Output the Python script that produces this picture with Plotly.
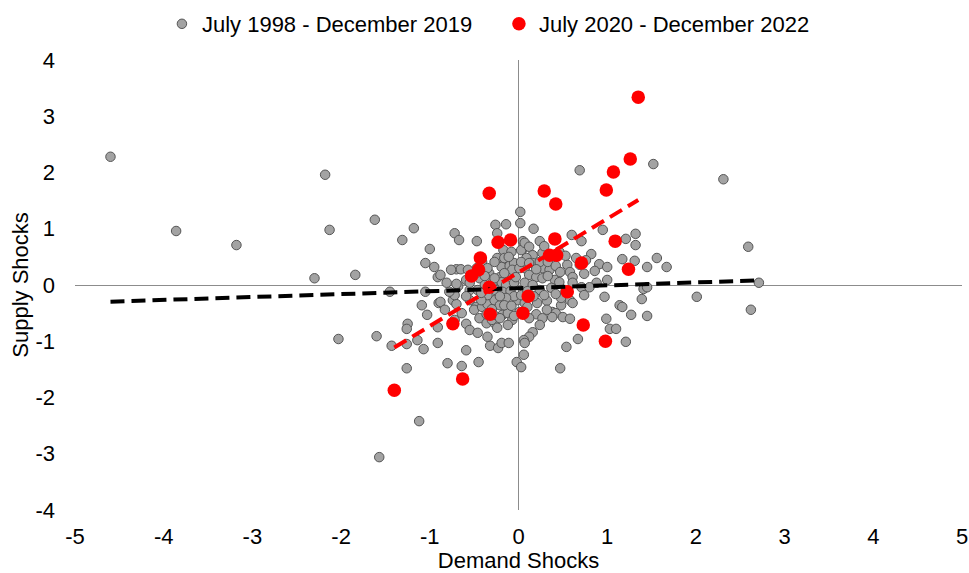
import numpy as np
import plotly.graph_objects as go

# July 1998 - December 2019 (demand shock, supply shock)
pre_demand = [
    -4.60, -3.86, -3.18, -2.30, -2.18, -2.13, -1.84, -2.03, -1.62, -1.60,
    -1.57, -1.43, -1.31, -1.18, -1.26, -1.12, -1.45, -1.00, -1.05, -0.95,
    -0.91, -1.05, -1.09, -1.03, -0.90, -1.25, -1.26, -1.26, -1.14, -1.07,
    -0.91, -0.91, -0.80, -0.64, -0.59, -0.59, -0.72, -0.67, -0.47, -0.88,
    -0.70, -0.65, -0.44, -0.59, -0.68, -0.26, -0.14, -0.24, 0.02, 0.02,
    -0.17, -0.24, -0.33, -0.19, -0.10, -0.05, 0.05, 0.05, -0.21, -0.10,
    -0.88, -0.74, -0.70, -0.55, -0.48, -0.64, -0.50, -0.44, -0.36, -0.27,
    -0.24, -0.18, -0.12, -0.07, -0.41, -0.35, -0.27, -0.21, -0.30, -0.29,
    -0.19, -0.14, -0.05, -0.38, -0.35, -0.42, -0.55, -0.70, -0.72, -0.32,
    -0.23, -0.19, -0.11, -0.45, -0.02, 0.01, -0.01,
    0.03, 0.07, 0.12, 0.17, 0.60, 0.95, 0.71, 0.16, 0.27, 0.09,
    0.16, 0.07, 0.27, 0.35, 0.55, 0.58, 0.61, 0.82, 0.91, 0.86,
    0.74, 1.00, 1.00, 0.88, 0.41, 0.46, 0.12, 0.20, 0.27, 1.32,
    1.21, 1.32, 1.17, 1.31, 1.45, 1.56, 1.67, 1.41, 1.45, 0.97,
    1.14, 1.17, 0.48, 0.58, 1.52, 2.31, 2.59, 2.71, 2.62, 2.01,
    0.69, 1.39, 1.27, 1.45, 0.99, 1.03, 1.10, 1.21, 0.07, 0.16,
    0.24, 0.37, 0.61, 0.71, 0.80, 0.74, 0.61, 0.48, 0.21, 0.32,
    0.07, 0.10, 0.20, 0.38, 0.42, 0.38, 0.50, 0.58, 0.67, 0.54,
    0.16, 0.12, 0.06, 0.07, 0.06, 0.03, 0.47,
    -0.41, -0.47, -0.35, -0.27, -0.16, -0.08, -0.11, -0.07, -0.16, -0.27,
    -0.38, -0.48, -0.57, -0.03, 0.01, 0.03, 0.24, 0.33, 0.42, 0.47,
    0.33, 0.20, 0.12, 0.24, 0.29, 0.46, 0.53, 0.65, 0.69, 0.76,
    -0.46, -0.42, -0.26, -0.18, -0.09, -0.05, -0.14, -0.21, -0.30, -0.16,
    -0.08, -0.36, -0.28, -0.21, -0.12, -0.05, 0.03, 0.10, 0.17, 0.29,
    0.42, 0.53, 0.12, 0.27, 0.32, 0.24, -0.55, -0.59, -0.78, -0.81,
    -0.76, -0.83, -0.55, -0.46, -0.35, -0.72,
]
pre_supply = [
    2.28, 0.96, 0.71, 0.12, 1.96, 0.98, 0.18, -0.96, 1.16, -0.91,
    -3.06, -1.08, 0.80, 1.01, -1.48, -2.42, -0.12, 0.64, 0.39, 0.32,
    0.14, -0.12, -0.36, -0.53, -0.32, -0.69, -0.78, -1.05, -0.98, -1.14,
    -1.03, -0.75, -1.39, -1.44, -1.16, -0.69, 0.92, 0.80, 0.78, 0.18,
    0.28, 0.28, 0.12, 0.09, -0.02, 1.07, 1.08, 0.92, 1.30, 1.10,
    0.62, 0.48, 0.21, 0.32, 0.34, 0.39, 0.78, 0.64, 0.14, 0.18,
    -0.30, -0.27, -0.34, -0.09, -0.39, -0.50, -0.44, -0.59, -0.68, -0.68,
    -0.76, -0.53, -0.50, -0.62, -0.39, -0.34, -0.27, -0.36, -0.62, 0.05,
    0.05, 0.00, 0.04, 0.00, -0.18, -0.27, 0.04, 0.02, -0.18, -1.08,
    -1.12, -1.03, -1.03, -1.37, -1.37, -0.48, -0.27,
    0.62, 0.75, 0.68, 1.00, 0.89, 0.98, 0.78, 0.53, 0.57, 0.48,
    0.39, 0.30, 0.30, 0.27, 0.36, 0.23, 0.14, 0.55, 0.37, 0.25,
    0.20, 0.32, 0.09, 0.04, 0.09, 0.05, 0.18, 0.14, 0.12, 0.91,
    0.82, 0.71, 0.46, 0.43, 0.32, 0.48, 0.32, -0.07, -0.04, -0.21,
    -0.36, -0.39, -0.36, -0.27, 2.15, 1.88, 0.68, 0.04, -0.44, -0.21,
    2.04, -0.25, -0.53, -0.55, -0.60, -0.78, -0.78, -1.01, 0.04, 0.00,
    -0.09, -0.05, 0.04, -0.04, -0.04, -0.18, -0.32, -0.23, -0.32, -0.28,
    -0.32, -0.39, -0.52, -0.48, -0.50, -0.57, -0.57, -0.60, -0.96, -1.10,
    -0.84, -0.92, -0.98, -1.03, -1.24, -1.46, -1.48,
    0.41, 0.30, 0.30, 0.41, 0.48, 0.59, 0.50, 0.27, 0.21, 0.12,
    0.16, 0.21, 0.27, 0.14, 0.30, 0.41, 0.41, 0.41, 0.34, 0.23,
    0.16, 0.28, 0.39, 0.78, 0.69, 0.59, 0.52, 0.48, 0.36, 0.44,
    -0.09, -0.14, -0.09, -0.12, -0.11, -0.20, -0.23, -0.20, -0.43, -0.36,
    -0.37, -0.52, -0.53, -0.59, -0.71, -0.55, -0.18, -0.11, -0.20, -0.18,
    -0.16, -0.11, -0.59, -0.59, -0.44, -0.71, -0.27, -0.20, -0.12, 0.04,
    0.27, -0.44, -0.80, -0.85, -0.92, -0.62,
]

# July 2020 - December 2022
post_demand = [
    1.35, 1.26, 1.07, 0.99, 0.29, -0.33, 0.42, -0.23, -0.09, 0.41,
    1.09, -0.43, 0.35, 0.43, -0.45, -0.53, 0.71, 1.24, -0.33, 0.11,
    0.55, -0.32, -0.74, 0.05, 0.73, 0.98, -0.63, -1.40,
]
post_supply = [
    3.34, 2.24, 2.01, 1.69, 1.67, 1.63, 1.44, 0.76, 0.80, 0.82,
    0.78, 0.48, 0.53, 0.53, 0.27, 0.16, 0.39, 0.28, -0.04, -0.20,
    -0.12, -0.52, -0.69, -0.50, -0.71, -1.00, -1.67, -1.87,
]

x_tick_vals = [-5, -4, -3, -2, -1, 0, 1, 2, 3, 4, 5]
x_tick_text = ["-5", "-4", "-3", "-2", "-1", "0", "1", "2", "3", "4", "5"]
y_tick_vals = [-4, -3, -2, -1, 0, 1, 2, 3, 4]
y_tick_text = ["-4", "-3", "-2", "-1", "0", "1", "2", "3", "4"]

pre_label = "July 1998 - December 2019"
post_label = "July 2020 - December 2022"

FONT = "Liberation Sans, Arial, sans-serif"
FS = 22


def fit_line(xs, ys):
    xs = np.asarray(xs)
    ys = np.asarray(ys)
    slope, intercept = np.polyfit(xs, ys, 1)
    xx = np.array([xs.min(), xs.max()])
    return xx, slope * xx + intercept


fig = go.Figure()
fig.add_trace(go.Scatter(
    x=pre_demand, y=pre_supply, mode="markers", name=pre_label,
    marker=dict(size=9.5, color="#a3a3a3", line=dict(color="#555555", width=1)),
))
fig.add_trace(go.Scatter(
    x=post_demand, y=post_supply, mode="markers", name=post_label,
    marker=dict(size=13.5, color="#ff0000", line=dict(width=0)),
))
bx, by = fit_line(pre_demand, pre_supply)
fig.add_trace(go.Scatter(
    x=bx, y=by, mode="lines", showlegend=False, hoverinfo="skip",
    line=dict(color="#000000", width=4, dash="14px,7px"),
))
rx, ry = fit_line(post_demand, post_supply)
fig.add_trace(go.Scatter(
    x=rx, y=ry, mode="lines", showlegend=False, hoverinfo="skip",
    line=dict(color="#ff0000", width=4, dash="14px,7px"),
))

axis_common = dict(
    showgrid=False, showline=False, ticks="", zeroline=True,
    zerolinecolor="#8c8c8c", zerolinewidth=1, automargin=False,
    tickfont=dict(family=FONT, size=FS, color="#000000"),
)
fig.update_layout(
    width=969, height=573,
    margin=dict(l=75, r=7, t=60, b=63, autoexpand=False),
    paper_bgcolor="#ffffff", plot_bgcolor="#ffffff",
    font=dict(family=FONT, color="#000000"),
    legend=dict(
        orientation="h", x=0.098, xanchor="left", y=1.08, yanchor="middle",
        font=dict(family=FONT, size=FS, color="#000000"),
        itemwidth=30, tracegroupgap=0, entrywidth=292,
    ),
    xaxis=dict(
        range=[-5, 5], tickvals=x_tick_vals, ticktext=x_tick_text,
        ticklabelstandoff=11,
        title=dict(text="Demand Shocks", font=dict(family=FONT, size=FS), standoff=18),
        **axis_common,
    ),
    yaxis=dict(
        range=[-4, 4], tickvals=y_tick_vals, ticktext=y_tick_text,
        ticklabelstandoff=19,
        title=dict(text="Supply Shocks", font=dict(family=FONT, size=FS), standoff=0),
        **axis_common,
    ),
)

fig.write_html(
    "out.html",
    config={"displayModeBar": False},
    post_script="document.body.style.margin='0px';document.body.style.overflow='hidden';",
)
